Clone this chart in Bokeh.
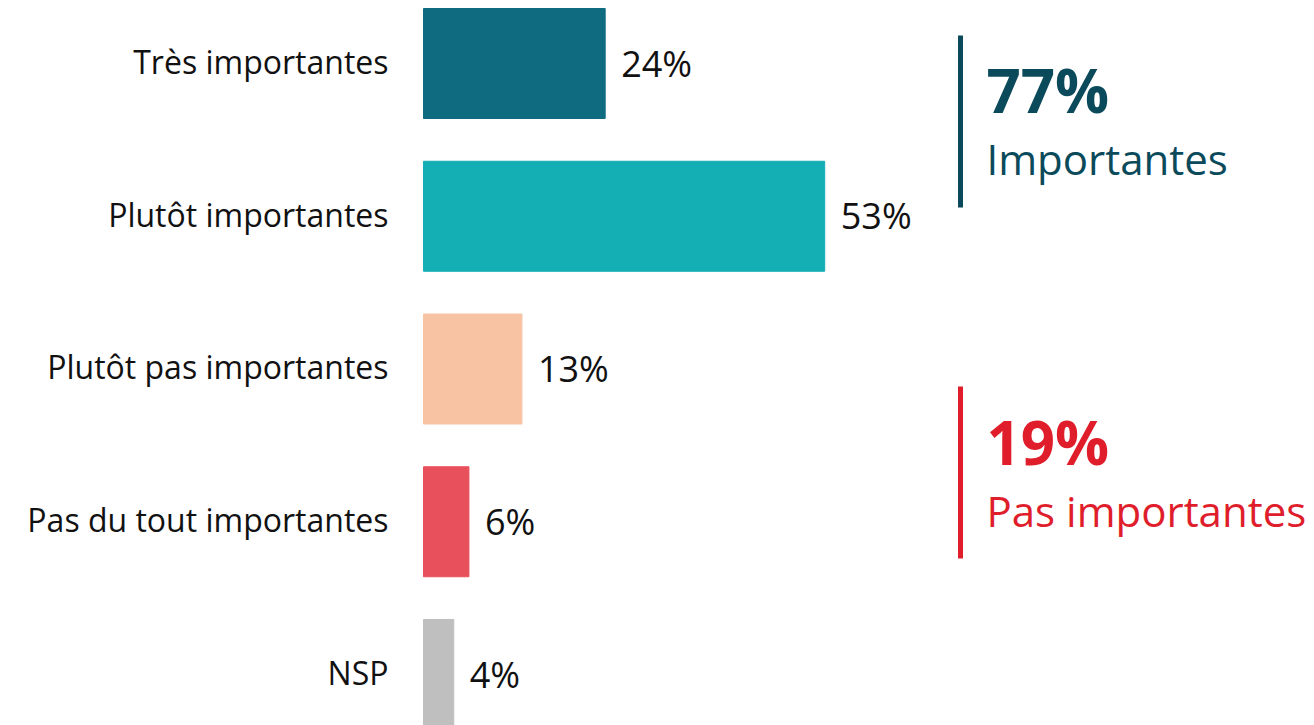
from bokeh.plotting import figure
from bokeh.models import Range1d, ColumnDataSource
from bokeh.core.properties import value
from bokeh.embed import file_html
from bokeh.resources import INLINE

# Survey answers and their shares (%)
categories = ["Très importantes", "Plutôt importantes", "Plutôt pas importantes",
              "Pas du tout importantes", "NSP"]
shares = [24, 53, 13, 6, 4]
bar_colors = ["#0F6B80", "#14AFB5", "#F7C3A3", "#E8505B", "#BFBFBF"]

# Grouped totals shown on the right
group_totals = [77, 19]
group_labels = ["Importantes", "Pas importantes"]
group_colors = ["#0B4A5A", "#E01E2B"]

FONT = "Open Sans"
W, H = 1314, 725
PX_PER_PCT = 7.57          # horizontal scale
X0_PX = 423                # where the bars start
ROW0_PX, ROW_STEP_PX = 63, 152.75
BASELINE_SHIFT = 0.39      # em correction for the alphabetic baseline in SVG output


def px_to_row(py):
    return (py - ROW0_PX) / ROW_STEP_PX


def px_to_x(px):
    return (px - X0_PX) / PX_PER_PCT


def base_offset(size):
    return -BASELINE_SHIFT * size


p = figure(width=W, height=H, output_backend="svg", toolbar_location=None,
           x_range=Range1d(px_to_x(0), px_to_x(W)),
           y_range=Range1d(px_to_row(H), px_to_row(0)),
           min_border=0, outline_line_color=None)
p.axis.visible = False
p.grid.visible = False
p.background_fill_color = "white"

CAT_SIZE, VAL_SIZE, TOT_SIZE, LAB_SIZE = 32, 36, 60, 42

rows = list(range(len(categories)))
src = ColumnDataSource(dict(
    y=rows, share=shares, color=bar_colors, cat=categories,
    lbl=[f"{v}%" for v in shares],
    cat_x=[px_to_x(388)] * len(rows),
    cat_y=[r + 10.3 / ROW_STEP_PX for r in rows],
    val_y=[r + 13.7 / ROW_STEP_PX for r in rows],
))

p.hbar(y="y", left=0, right="share", height=110 / ROW_STEP_PX, color="color", source=src)

p.text(x="cat_x", y="cat_y", text="cat", source=src, text_align="right",
       text_baseline="alphabetic", text_font=value(FONT), text_font_size=f"{CAT_SIZE}px",
       text_color="#111111", y_offset=base_offset(CAT_SIZE))
p.text(x="share", y="val_y", text="lbl", source=src, text_align="left",
       text_baseline="alphabetic", text_font=value(FONT), text_font_size=f"{VAL_SIZE}px",
       text_color="#111111", x_offset=16, y_offset=base_offset(VAL_SIZE))

# Group brackets with their totals
bracket_px = [(35, 207), (386, 558)]
total_base_px = [113, 465]
label_base_px = [174, 526]
line_x = px_to_x(960)
text_x = px_to_x(986)
for tot, lab, col, (b0, b1), tb, lb in zip(group_totals, group_labels, group_colors,
                                           bracket_px, total_base_px, label_base_px):
    p.segment(x0=[line_x], y0=[px_to_row(b0)], x1=[line_x], y1=[px_to_row(b1)],
              line_color=col, line_width=5)
    p.text(x=[text_x], y=[px_to_row(tb)], text=[f"{tot}%"], text_align="left",
           text_baseline="alphabetic", text_font=value(FONT), text_font_style="bold",
           text_font_size=f"{TOT_SIZE}px", text_color=col, y_offset=base_offset(TOT_SIZE))
    p.text(x=[text_x], y=[px_to_row(lb)], text=[lab], text_align="left",
           text_baseline="alphabetic", text_font=value(FONT),
           text_font_size=f"{LAB_SIZE}px", text_color=col, y_offset=base_offset(LAB_SIZE))

open("out.html", "w").write(file_html(p, INLINE))
